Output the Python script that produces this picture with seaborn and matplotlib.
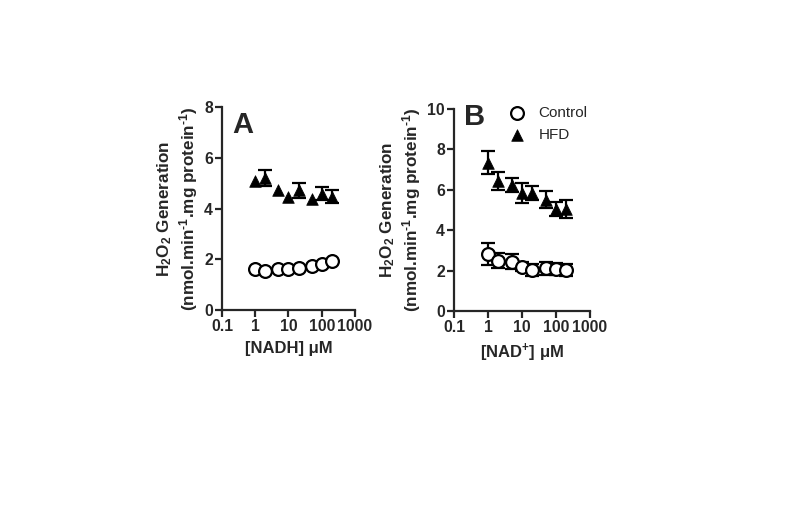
import numpy as np
import pandas as pd
import seaborn as sns
import matplotlib.pyplot as plt
import matplotlib.ticker as ticker

conc = [1, 2, 5, 10, 20, 50, 100, 200]

# painel A - NADH (0 = barra de erro escondida pelo marcador)
ctrl_a = [1.63, 1.55, 1.61, 1.63, 1.64, 1.72, 1.83, 1.94]
ctrl_a_err = [0, 0, 0, 0, 0, 0, 0, 0]
hfd_a = [5.07, 5.20, 4.72, 4.46, 4.72, 4.37, 4.59, 4.46]
hfd_a_err = [0, 0.30, 0, 0, 0.30, 0, 0.24, 0.26]

# painel B - NAD+
ctrl_b = [2.82, 2.49, 2.44, 2.19, 2.03, 2.11, 2.08, 2.03]
ctrl_b_err = [0.56, 0.36, 0.37, 0.22, 0.29, 0.33, 0.28, 0.29]
hfd_b = [7.34, 6.45, 6.24, 5.83, 5.83, 5.50, 5.05, 5.03]
hfd_b_err = [0.58, 0.45, 0.36, 0.50, 0.34, 0.42, 0.36, 0.45]

sns.set_style('ticks')
plt.rcParams['font.family'] = ['Liberation Sans', 'DejaVu Sans']
plt.rcParams['font.weight'] = 'bold'
plt.rcParams['axes.labelweight'] = 'bold'
plt.rcParams['mathtext.fontset'] = 'custom'
plt.rcParams['mathtext.rm'] = 'Liberation Sans:bold'
plt.rcParams['mathtext.bf'] = 'Liberation Sans:bold'
plt.rcParams['mathtext.it'] = 'Liberation Sans:bold:italic'
plt.rcParams['mathtext.default'] = 'bf'

fig = plt.figure(figsize=(7.94, 5.26), dpi=100)
ax_a = fig.add_axes([0.2796, 0.4106, 0.1675, 0.386])
ax_b = fig.add_axes([0.5718, 0.4087, 0.171, 0.3841])

ylab = 'H$_2$O$_2$ Generation\n(nmol.min$^{\u2010 1}$.mg protein$^{\u2010 1}$)'


def barras(ax, y, err):
    x = [c for c, e in zip(conc, err) if e > 0]
    yy = [v for v, e in zip(y, err) if e > 0]
    ee = [e for e in err if e > 0]
    if x:
        ax.errorbar(x, yy, yerr=ee, fmt='none', ecolor='black',
                    elinewidth=1.6, capsize=5, capthick=1.6, zorder=1)


def painel(ax, ctrl, ctrl_err, hfd, hfd_err, ymax, xlabel, letra, lx, ly, legenda):
    df = pd.DataFrame({
        'conc': conc + conc,
        'valor': ctrl + hfd,
        'grupo': ['Control'] * len(conc) + ['HFD'] * len(conc),
    })
    barras(ax, ctrl, ctrl_err)
    barras(ax, hfd, hfd_err)
    sns.scatterplot(data=df[df.grupo == 'Control'], x='conc', y='valor', ax=ax,
                    marker='o', s=85, facecolor='white', edgecolor='black',
                    linewidth=1.6, zorder=3, label='Control' if legenda else None)
    sns.scatterplot(data=df[df.grupo == 'HFD'], x='conc', y='valor', ax=ax,
                    marker='^', s=70, color='black', edgecolor='black',
                    linewidth=0.5, zorder=3, label='HFD' if legenda else None)
    ax.set_xscale('log')
    ax.set_xlim(0.1, 1000)
    ax.set_ylim(0, ymax)
    ax.xaxis.set_major_locator(ticker.FixedLocator([0.1, 1, 10, 100, 1000]))
    ax.xaxis.set_major_formatter(ticker.FixedFormatter(['0.1', '1', '10', '100', '1000']))
    ax.xaxis.set_minor_locator(ticker.NullLocator())
    ax.yaxis.set_major_locator(ticker.MultipleLocator(2))
    ax.set_xlabel(xlabel, fontsize=12, fontweight='bold', labelpad=5)
    ax.set_ylabel(ylab, fontsize=12.3, fontweight='bold', labelpad=3)
    ax.tick_params(labelsize=11.3, width=1.6, length=5, direction='out', pad=1.5)
    for lab in ax.get_xticklabels() + ax.get_yticklabels():
        lab.set_fontweight('bold')
    for s in ['left', 'bottom']:
        ax.spines[s].set_linewidth(1.6)
    sns.despine(ax=ax)
    ax.text(lx, ly, letra, transform=ax.transAxes, fontsize=21, fontweight='bold',
            ha='left', va='top')
    if legenda:
        leg = ax.legend(loc='upper right', bbox_to_anchor=(1.05, 1.06), frameon=False,
                        fontsize=11, handletextpad=0.4, labelspacing=0.55,
                        borderaxespad=0.2)
        for t in leg.get_texts():
            t.set_fontweight('normal')
    elif ax.get_legend() is not None:
        ax.get_legend().remove()


painel(ax_a, ctrl_a, ctrl_a_err, hfd_a, hfd_a_err, 8, '[NADH] μM', 'A', 0.08, 0.98, False)
painel(ax_b, ctrl_b, ctrl_b_err, hfd_b, hfd_b_err, 10, '[NAD$^{+}$] μM', 'B', 0.07, 1.03, True)

plt.savefig('out.png', dpi=100)
